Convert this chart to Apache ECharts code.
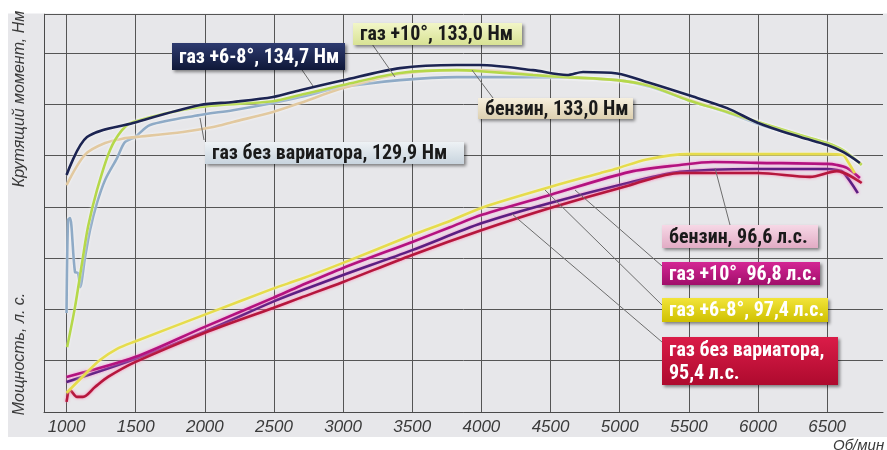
<!DOCTYPE html>
<html><head><meta charset="utf-8">
<script src="https://cdn.jsdelivr.net/npm/echarts@6/dist/echarts.min.js"></script>
<style>html,body{margin:0;padding:0;background:#fff}#c{width:887px;height:450px}</style>
</head><body><div id="c"></div>
<script>
// ---- tick labels ----
const rpmTicks = [1000, 1500, 2000, 2500, 3000, 3500, 4000, 4500, 5000, 5500, 6000, 6500];

// ---- torque curves (Nm) ----
const gas68TorqueRpm = [1000, 1148, 1481, 1965, 2204, 2493, 2689, 3000, 3411, 3823, 3990, 4373, 4619, 4735, 4981, 5220, 5495, 5777, 6001, 6305, 6500, 6615, 6737];
const gas68Torque    = [92.4, 107.2, 112.7, 119.7, 120.9, 122.8, 125.5, 129.4, 134.1, 135.3, 135.3, 133.3, 131.4, 132.6, 132.0, 128.3, 123.6, 118.5, 112.7, 107.2, 104.1, 101.4, 97.1];

const gas10TorqueRpm = [1004, 1061, 1112, 1155, 1220, 1314, 1401, 1481, 1965, 2493, 2689, 3000, 3411, 3823, 3990, 4373, 4619, 4981, 5220, 5495, 5777, 6001, 6305, 6500, 6615, 6750];
const gas10Torque    = [25.3, 40.9, 58.1, 72.1, 86.5, 102.1, 109.9, 113.1, 118.9, 121.2, 123.6, 127.5, 132.2, 133.3, 132.9, 131.4, 130.6, 129.4, 127.1, 121.6, 117.0, 113.1, 108.0, 104.9, 102.1, 96.3];

const petrolTorqueRpm = [1000, 1134, 1279, 1423, 1495, 1842, 2060, 2204, 2493, 2689, 3000, 3411, 3823, 3990, 4373, 4619, 4981, 5220, 5495, 5777, 6001, 6305, 6500, 6615, 6750];
const petrolTorque    = [88.5, 100.4, 104.9, 106.8, 107.2, 109.2, 111.1, 113.1, 117.0, 120.5, 126.3, 131.8, 133.3, 133.3, 131.6, 130.6, 129.4, 127.3, 122.0, 117.2, 113.0, 107.8, 104.7, 101.8, 96.6];

const noVarTorqueRpm = [1000, 1011, 1025, 1061, 1083, 1098, 1134, 1170, 1220, 1278, 1365, 1423, 1495, 1604, 1965, 2204, 2493, 2689, 3000, 3411, 3823, 4373, 4981, 5220, 5495, 5777, 6001, 6305, 6500, 6615, 6737];
const noVarTorque    = [38.6, 74.9, 75.6, 54.6, 54.2, 48.7, 60.4, 71.0, 81.5, 90.4, 99.0, 105.3, 107.2, 111.9, 115.8, 117.7, 120.5, 122.8, 126.7, 129.4, 130.6, 130.6, 129.4, 126.8, 121.6, 116.8, 112.3, 107.5, 104.9, 102.0, 97.0];

// ---- power curves (hp) ----
const gas68PowerRpm = [1000, 1148, 1242, 1365, 1495, 1995, 2493, 2689, 3000, 3500, 3773, 4004, 4497, 4857, 4981, 5195, 5495, 6000, 6500, 6614, 6643, 6700];
const gas68Power    = [7.2, 15.0, 19.6, 23.8, 26.6, 36.6, 46.5, 50.0, 56.2, 66.7, 72.0, 77.0, 84.8, 90.0, 91.8, 95.2, 97.2, 97.2, 97.2, 96.9, 95.0, 90.0];

const gas10PowerRpm = [1000, 1495, 1995, 2493, 2689, 3000, 3500, 3773, 4004, 4497, 5074, 5437, 5676, 5993, 6500, 6570, 6643, 6737];
const gas10Power    = [13.2, 20.7, 32.0, 43.0, 47.5, 54.3, 64.1, 69.6, 74.3, 81.8, 90.5, 93.1, 94.2, 93.9, 93.5, 93.1, 92.0, 88.2];

const petrolPowerRpm = [1000, 1495, 1995, 2493, 2689, 3000, 3500, 4004, 4497, 5074, 5437, 5993, 6500, 6570, 6614, 6722];
const petrolPower    = [11.3, 20.0, 30.2, 41.6, 45.6, 51.6, 61.0, 71.2, 78.8, 86.5, 90.5, 91.6, 91.6, 91.2, 90.5, 82.5];

const noVarPowerRpm = [1000, 1025, 1076, 1119, 1206, 1300, 1495, 1995, 2493, 2689, 3000, 3500, 4004, 4497, 5074, 5437, 6000, 6376, 6570, 6750];
const noVarPower    = [3.8, 8.3, 5.7, 5.7, 9.4, 13.2, 18.8, 29.8, 39.2, 43.0, 49.0, 59.2, 68.6, 76.9, 85.5, 90.1, 90.1, 88.6, 90.8, 86.3];

// ---- texts ----
const axisTorqueTitle = 'Крутящий момент, Нм';
const axisPowerTitle = 'Мощность, л. с.';
const axisRpmTitle = 'Об/мин';
const torqueLabels = ['газ +6-8°, 134,7 Нм', 'газ +10°, 133,0 Нм', 'бензин, 133,0 Нм', 'газ без вариатора, 129,9 Нм'];
const powerLabels = ['бензин, 96,6 л.с.', 'газ +10°, 96,8 л.с.', 'газ +6-8°, 97,4 л.с.', 'газ без вариатора,\n95,4 л.с.'];

function pairs(xs, ys) { return xs.map((x, i) => [x, ys[i]]); }

const chart = echarts.init(document.getElementById('c'), null, { renderer: 'canvas' });

function line(name, xs, ys, color, yIdx, glow) {
  return {
    name: name, type: 'line', yAxisIndex: yIdx, data: pairs(xs, ys),
    showSymbol: false, symbol: 'none', smooth: 0.3, z: 3,
    lineStyle: { color: color, width: 2.6, shadowColor: glow, shadowBlur: 3 },
    animation: false
  };
}

const labelFont = "bold 20px 'Liberation Sans Narrow','Roboto Condensed','DejaVu Sans Condensed',sans-serif";

function box(x, y, w, h, text, c1, c2, tc) {
  return {
    type: 'group', x: x, y: y, z: 100,
    children: [
      { type: 'rect', shape: { x: 0, y: 0, width: w, height: h },
        style: { fill: new echarts.graphic.LinearGradient(0, 0, 0, 1, [{offset: 0, color: c1}, {offset: 1, color: c2}]),
                 shadowColor: 'rgba(0,0,0,0.45)', shadowBlur: 3, shadowOffsetX: 2, shadowOffsetY: 2 }, z: 100 },
      { type: 'text', x: 7, y: h / 2 + 1, z: 101,
        style: { text: text, font: labelFont, fill: tc, verticalAlign: 'middle', align: 'left', lineHeight: 23 } }
    ]
  };
}

function leader(x1, y1, x2, y2) {
  return { type: 'line', z: 99, shape: { x1: x1, y1: y1, x2: x2, y2: y2 }, style: { stroke: '#6d6d6d', lineWidth: 1 } };
}

const option = {
  backgroundColor: '#e7e7ea',
  animation: false,
  grid: { left: 44, right: 4, top: 14, bottom: 38, containLabel: false },
  xAxis: {
    type: 'value', min: 837, max: 6904,
    axisLine: { show: true, lineStyle: { color: '#4a4a4a', width: 1 } },
    axisTick: { show: false, customValues: rpmTicks },
    axisLabel: { customValues: rpmTicks, formatter: v => String(v), fontStyle: 'italic', fontSize: 17, color: '#3a3a3a', margin: 7,
                 fontFamily: "'Liberation Sans', Arial, sans-serif" },
    splitLine: { show: true, lineStyle: { color: '#555555', width: 1 } }
  },
  yAxis: [
    { type: 'value', min: 0, max: 155.2, interval: 20,
      axisLine: { show: true, lineStyle: { color: '#4a4a4a', width: 1 } },
      axisTick: { show: false }, axisLabel: { show: false },
      splitLine: { show: true, lineStyle: { color: '#555555', width: 1 } } },
    { type: 'value', min: 0, max: 150, show: false, splitLine: { show: false } }
  ],
  series: [
    line('бензин, л.с.', petrolPowerRpm, petrolPower, '#5b1f82', 1, 'rgba(255,110,200,0.9)'),
    line('газ без вариатора, л.с.', noVarPowerRpm, noVarPower, '#b5173d', 1, 'rgba(255,120,170,0.9)'),
    line('газ +10°, л.с.', gas10PowerRpm, gas10Power, '#b3127f', 1, 'rgba(255,140,210,0.9)'),
    line('газ +6-8°, л.с.', gas68PowerRpm, gas68Power, '#e6dc4c', 1, 'rgba(255,255,200,0.8)'),
    line('газ без вариатора, Нм', noVarTorqueRpm, noVarTorque, '#8eaac6', 0, 'rgba(255,255,255,0.7)'),
    line('бензин, Нм', petrolTorqueRpm, petrolTorque, '#e2c9a0', 0, 'rgba(255,255,255,0.7)'),
    line('газ +10°, Нм', gas10TorqueRpm, gas10Torque, '#b5d84a', 0, 'rgba(255,255,255,0.7)'),
    line('газ +6-8°, Нм', gas68TorqueRpm, gas68Torque, '#1c2452', 0, 'rgba(255,255,255,0.6)')
  ],
  graphic: { elements: [
    { type: 'rect', z: 90, shape: { x: 0, y: 0, width: 887, height: 13.5 }, style: { fill: '#ffffff' } },
    { type: 'rect', z: 90, shape: { x: 0, y: 0, width: 8, height: 450 }, style: { fill: '#ffffff' } },
    { type: 'rect', z: 90, shape: { x: 0, y: 437, width: 887, height: 13 }, style: { fill: '#ffffff' } },
    { type: 'text', z: 100, x: 20, y: 99, rotation: Math.PI / 2,
      style: { text: axisTorqueTitle, font: "italic 16px 'Liberation Sans', Arial, sans-serif", fill: '#3a3a3a', align: 'center', verticalAlign: 'middle' } },
    { type: 'text', z: 100, x: 20, y: 354, rotation: Math.PI / 2,
      style: { text: axisPowerTitle, font: "italic 16px 'Liberation Sans', Arial, sans-serif", fill: '#3a3a3a', align: 'center', verticalAlign: 'middle' } },
    { type: 'text', z: 100, x: 833, y: 446,
      style: { text: axisRpmTitle, font: "italic 15px 'Liberation Sans', Arial, sans-serif", fill: '#3a3a3a', align: 'left', verticalAlign: 'middle' } },
    leader(300, 67, 313, 86),
    leader(372, 44, 395, 77),
    leader(472, 70, 493, 98),
    leader(200, 118, 204, 140),
    leader(715, 168, 730, 225),
    leader(575, 190, 662, 266),
    leader(545, 190, 662, 305),
    leader(512, 214, 662, 342),
    box(172, 43, 173, 27, torqueLabels[0], '#2e3b70', '#0f1838', '#ffffff'),
    box(353, 23, 169, 22, torqueLabels[1], '#f2f6c8', '#d8e294', '#1a1a1a'),
    box(478, 98, 155, 21, torqueLabels[2], '#f6efde', '#ddd0b0', '#1a1a1a'),
    box(205, 142, 259, 22, torqueLabels[3], '#eef2f5', '#c8d4de', '#1a1a1a'),
    box(662, 225, 156, 23, powerLabels[0], '#f6d8e6', '#e2abc4', '#1a1a1a'),
    box(662, 262, 158, 23, powerLabels[1], '#d42694', '#a00e6a', '#ffffff'),
    box(662, 298, 166, 24, powerLabels[2], '#f2e43a', '#cfc000', '#ffffff'),
    box(662, 337, 176, 48, powerLabels[3], '#da1c48', '#ae0a2e', '#ffffff')
  ] }
};
chart.setOption(option);
</script>
</body></html>
